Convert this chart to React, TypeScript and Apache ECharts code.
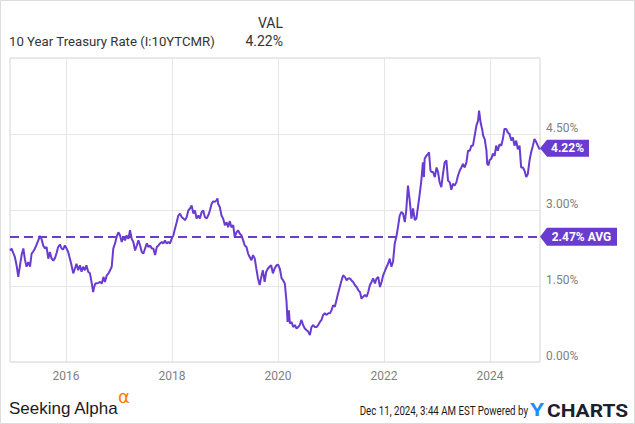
import React, { useEffect, useRef } from 'react';
import * as echarts from 'echarts';

const TITLE = '10 Year Treasury Rate (I:10YTCMR)';
const VAL_HEADER = 'VAL';
const LAST_VALUE = 4.22;
const AVG_VALUE = 2.47;
const START_DATE = '2014-12-11';
const END_DATE = '2024-12-11';
const YEAR_TICKS = ['2016-01-01', '2018-01-01', '2020-01-01', '2022-01-01', '2024-01-01'];
const Y_MIN = 0;
const Y_MAX = 6;
const Y_STEP = 1.5;
const STAMP = 'Dec 11, 2024, 3:44 AM EST Powered by';

const DATES = [
  '2014-12-11', '2014-12-22', '2015-01-03', '2015-01-14', '2015-01-25', '2015-02-06', '2015-02-18', '2015-03-01',
  '2015-03-13', '2015-03-24', '2015-04-04', '2015-04-16', '2015-04-28', '2015-05-09', '2015-05-20', '2015-06-01',
  '2015-06-13', '2015-06-24', '2015-07-05', '2015-07-16', '2015-07-28', '2015-08-09', '2015-08-20', '2015-09-01',
  '2015-09-12', '2015-09-23', '2015-10-05', '2015-10-17', '2015-10-28', '2015-11-08', '2015-11-20', '2015-12-01',
  '2015-12-12', '2015-12-24', '2016-01-05', '2016-01-16', '2016-01-28', '2016-02-08', '2016-02-20', '2016-03-02',
  '2016-03-13', '2016-03-25', '2016-04-06', '2016-04-17', '2016-04-28', '2016-05-10', '2016-05-21', '2016-06-02',
  '2016-06-14', '2016-06-25', '2016-07-06', '2016-07-13', '2016-07-22', '2016-08-10', '2016-08-24', '2016-09-04',
  '2016-09-15', '2016-09-25', '2016-10-08', '2016-10-20', '2016-10-31', '2016-11-11', '2016-11-22', '2016-12-04',
  '2016-12-15', '2016-12-27', '2017-01-07', '2017-01-19', '2017-01-30', '2017-02-11', '2017-02-22', '2017-03-06',
  '2017-03-17', '2017-03-29', '2017-04-09', '2017-04-21', '2017-05-03', '2017-05-14', '2017-05-26', '2017-06-06',
  '2017-06-17', '2017-06-29', '2017-07-11', '2017-07-22', '2017-08-03', '2017-08-14', '2017-08-25', '2017-09-06',
  '2017-09-18', '2017-09-29', '2017-10-10', '2017-10-22', '2017-11-02', '2017-11-13', '2017-11-25', '2017-12-06',
  '2017-12-18', '2017-12-29', '2018-01-10', '2018-01-21', '2018-02-02', '2018-02-13', '2018-02-25', '2018-03-08',
  '2018-03-20', '2018-03-31', '2018-04-12', '2018-04-23', '2018-05-05', '2018-05-16', '2018-05-28', '2018-06-08',
  '2018-06-19', '2018-07-01', '2018-07-12', '2018-07-24', '2018-08-04', '2018-08-15', '2018-08-27', '2018-09-07',
  '2018-09-19', '2018-09-30', '2018-10-11', '2018-10-23', '2018-11-03', '2018-11-10', '2018-11-15', '2018-11-26',
  '2018-12-08', '2018-12-19', '2018-12-31', '2019-01-12', '2019-01-22', '2019-02-03', '2019-02-14', '2019-02-26',
  '2019-03-09', '2019-03-21', '2019-04-01', '2019-04-13', '2019-04-24', '2019-05-06', '2019-05-17', '2019-05-29',
  '2019-06-09', '2019-06-20', '2019-07-02', '2019-07-13', '2019-07-25', '2019-08-05', '2019-08-16', '2019-08-28',
  '2019-09-08', '2019-09-19', '2019-10-01', '2019-10-12', '2019-10-23', '2019-11-04', '2019-11-15', '2019-11-27',
  '2019-12-08', '2019-12-22', '2020-01-02', '2020-01-14', '2020-01-26', '2020-02-06', '2020-02-17', '2020-02-29',
  '2020-03-07', '2020-03-16', '2020-03-23', '2020-04-04', '2020-04-15', '2020-04-26', '2020-05-08', '2020-05-19',
  '2020-05-30', '2020-06-11', '2020-06-22', '2020-07-04', '2020-07-15', '2020-07-27', '2020-08-08', '2020-08-19',
  '2020-08-31', '2020-09-11', '2020-09-23', '2020-10-04', '2020-10-16', '2020-10-27', '2020-11-07', '2020-11-19',
  '2020-12-01', '2020-12-12', '2020-12-24', '2021-01-04', '2021-01-15', '2021-01-27', '2021-02-07', '2021-02-18',
  '2021-03-02', '2021-03-14', '2021-03-25', '2021-04-06', '2021-04-18', '2021-04-29', '2021-05-11', '2021-05-22',
  '2021-06-02', '2021-06-14', '2021-06-26', '2021-07-07', '2021-07-19', '2021-07-30', '2021-08-10', '2021-08-22',
  '2021-09-03', '2021-09-14', '2021-09-26', '2021-10-07', '2021-10-18', '2021-10-30', '2021-11-11', '2021-11-22',
  '2021-12-04', '2021-12-15', '2021-12-26', '2022-01-13', '2022-01-29', '2022-02-09', '2022-02-21', '2022-03-04',
  '2022-03-16', '2022-03-27', '2022-04-07', '2022-04-19', '2022-05-01', '2022-05-12', '2022-05-24', '2022-06-03',
  '2022-06-15', '2022-06-27', '2022-07-09', '2022-07-20', '2022-08-01', '2022-08-12', '2022-08-23', '2022-09-04',
  '2022-09-15', '2022-09-26', '2022-10-03', '2022-10-08', '2022-10-20', '2022-10-31', '2022-11-07', '2022-11-17',
  '2022-11-24', '2022-12-05', '2022-12-17', '2022-12-29', '2023-01-08', '2023-01-19', '2023-01-31', '2023-02-11',
  '2023-02-23', '2023-03-07', '2023-03-18', '2023-03-30', '2023-04-10', '2023-04-21', '2023-05-03', '2023-05-15',
  '2023-05-26', '2023-06-07', '2023-06-18', '2023-06-29', '2023-07-11', '2023-07-23', '2023-08-03', '2023-08-15',
  '2023-08-26', '2023-09-06', '2023-09-18', '2023-09-30', '2023-10-11', '2023-10-18', '2023-10-30', '2023-11-08',
  '2023-11-15', '2023-11-26', '2023-12-08', '2023-12-13', '2023-12-22', '2023-12-29', '2024-01-10', '2024-01-21',
  '2024-02-02', '2024-02-13', '2024-02-24', '2024-03-07', '2024-03-19', '2024-03-30', '2024-04-10', '2024-04-22',
  '2024-05-03', '2024-05-15', '2024-05-27', '2024-06-07', '2024-06-18', '2024-06-30', '2024-07-11', '2024-07-23',
  '2024-08-03', '2024-08-15', '2024-08-26', '2024-09-07', '2024-09-18', '2024-09-30', '2024-10-11', '2024-10-23',
  '2024-11-03', '2024-11-15', '2024-11-26', '2024-12-08', '2024-12-11',
];

const RATES = [
  2.20, 2.24, 2.15, 2.07, 1.91, 1.68, 1.91, 2.11,
  2.24, 2.02, 1.88, 1.97, 1.88, 2.14, 2.18, 2.24,
  2.32, 2.40, 2.49, 2.43, 2.30, 2.24, 2.27, 2.04,
  2.17, 2.05, 2.00, 2.05, 2.15, 2.27, 2.32, 2.24,
  2.22, 2.30, 2.24, 2.17, 2.04, 1.91, 1.75, 1.84,
  1.94, 1.81, 1.91, 1.78, 1.88, 1.81, 1.91, 1.78,
  1.75, 1.58, 1.38, 1.48, 1.55, 1.56, 1.58, 1.55,
  1.68, 1.58, 1.71, 1.75, 1.81, 1.88, 2.24, 2.34,
  2.47, 2.56, 2.50, 2.37, 2.47, 2.40, 2.50, 2.43,
  2.60, 2.43, 2.37, 2.20, 2.30, 2.40, 2.30, 2.17,
  2.14, 2.24, 2.34, 2.27, 2.30, 2.24, 2.24, 2.11,
  2.27, 2.30, 2.34, 2.37, 2.34, 2.40, 2.34, 2.37,
  2.34, 2.43, 2.50, 2.63, 2.76, 2.89, 2.93, 2.86,
  2.83, 2.80, 2.86, 2.99, 3.03, 3.09, 2.93, 2.99,
  2.83, 2.89, 2.83, 2.96, 2.99, 2.86, 2.83, 2.89,
  2.99, 3.12, 3.17, 3.16, 3.19, 3.23, 3.12, 3.06,
  2.89, 2.83, 2.70, 2.76, 2.66, 2.78, 2.66, 2.70,
  2.47, 2.56, 2.60, 2.53, 2.50, 2.40, 2.30, 2.27,
  2.14, 2.07, 2.01, 2.11, 2.04, 1.84, 1.65, 1.52,
  1.68, 1.81, 1.58, 1.78, 1.84, 1.88, 1.91, 1.75,
  1.84, 1.91, 1.92, 1.84, 1.65, 1.61, 1.55, 1.19,
  0.79, 1.02, 0.76, 0.79, 0.69, 0.73, 0.66, 0.69,
  0.73, 0.83, 0.73, 0.66, 0.63, 0.60, 0.53, 0.69,
  0.73, 0.69, 0.69, 0.73, 0.79, 0.83, 0.93, 0.96,
  0.93, 0.96, 0.96, 1.02, 1.12, 1.09, 1.22, 1.35,
  1.48, 1.61, 1.71, 1.68, 1.61, 1.65, 1.65, 1.61,
  1.58, 1.52, 1.48, 1.42, 1.38, 1.25, 1.29, 1.32,
  1.29, 1.38, 1.52, 1.58, 1.65, 1.55, 1.65, 1.68,
  1.48, 1.58, 1.71, 1.84, 1.94, 2.04, 1.88, 1.98,
  2.34, 2.47, 2.66, 2.89, 2.96, 2.93, 2.76, 2.99,
  3.48, 3.19, 2.83, 3.03, 2.80, 2.83, 3.06, 3.32,
  3.58, 3.94, 3.65, 4.01, 4.07, 4.11, 4.14, 3.78,
  3.75, 3.75, 3.65, 3.84, 3.75, 3.55, 3.45, 3.71,
  3.94, 3.98, 3.58, 3.55, 3.40, 3.52, 3.48, 3.55,
  3.68, 3.78, 3.84, 3.91, 3.84, 3.94, 4.17, 4.17,
  4.27, 4.27, 4.47, 4.67, 4.76, 4.96, 4.70, 4.60,
  4.47, 4.40, 4.17, 3.91, 3.88, 3.98, 4.01, 4.11,
  4.07, 4.27, 4.17, 4.30, 4.27, 4.40, 4.60, 4.60,
  4.53, 4.50, 4.37, 4.43, 4.27, 4.37, 4.20, 4.27,
  3.84, 3.84, 3.78, 3.65, 3.71, 3.98, 4.14, 4.27,
  4.40, 4.34, 4.27, 4.20, 4.22,
];

const PURPLE = '#6a3bd0';

const toTs = (d: string) => {
  const [y, m, day] = d.split('-').map(Number);
  return new Date(y, m - 1, day).getTime();
};

export default function App() {
  const ref = useRef<HTMLDivElement>(null);

  useEffect(() => {
    document.body.style.margin = '0';
    const chart = echarts.init(ref.current as HTMLDivElement, null, { renderer: 'svg' });
    const startTs = toTs(START_DATE);
    const endTs = toTs(END_DATE);
    const yearTicks = YEAR_TICKS.map(toTs);
    const seriesData = DATES.map((d, i) => [toTs(d), RATES[i]]);

    chart.setOption({
      animation: false,
      backgroundColor: '#ffffff',
      textStyle: { fontFamily: 'Roboto' },
      grid: {
        left: 10,
        right: 95,
        top: 58,
        bottom: 62,
        show: true,
        borderColor: '#d4d4d4',
        borderWidth: 1,
        backgroundColor: 'transparent',
      },
      xAxis: {
        type: 'value',
        min: startTs,
        max: endTs,
        scale: true,
        axisLine: { show: false },
        axisTick: { show: false, customValues: yearTicks },
        axisLabel: {
          customValues: yearTicks,
          formatter: (v: number) => String(new Date(v).getFullYear()),
          color: '#808080',
          fontSize: 12,
          fontFamily: 'Roboto',
          margin: 8,
        },
        splitLine: { show: true, lineStyle: { color: '#e6e6e6', width: 1 } },
      },
      yAxis: {
        type: 'value',
        position: 'right',
        min: Y_MIN,
        max: Y_MAX,
        interval: Y_STEP,
        axisLine: { show: false },
        axisTick: { show: false },
        axisLabel: {
          showMaxLabel: false,
          formatter: (v: number) => v.toFixed(2) + '%',
          color: '#808080',
          fontSize: 12,
          fontFamily: 'Roboto',
          margin: 6,
          verticalAlign: 'bottom',
        },
        splitLine: { show: true, lineStyle: { color: '#e6e6e6', width: 1 } },
      },
      series: [
        {
          type: 'line',
          data: seriesData,
          showSymbol: false,
          symbol: 'none',
          lineStyle: { color: PURPLE, width: 2 },
          itemStyle: { color: PURPLE },
          z: 3,
          markLine: {
            silent: true,
            symbol: 'none',
            label: { show: false },
            lineStyle: { color: PURPLE, width: 2, type: [9, 5] },
            data: [{ yAxis: AVG_VALUE }],
          },
          markPoint: {
            silent: true,
            data: [
              {
                coord: [endTs, LAST_VALUE],
                symbol: 'path://M0,8L7,0L49,0L49,16L7,16Z',
                symbolSize: [49, 17],
                symbolOffset: [24.5, 0],
                itemStyle: { color: PURPLE },
                label: {
                  show: true,
                  position: 'inside',
                  offset: [3, 0],
                  formatter: LAST_VALUE.toFixed(2) + '%',
                  color: '#ffffff',
                  fontWeight: 'bold',
                  fontSize: 12,
                  fontFamily: 'Roboto',
                },
              },
              {
                coord: [endTs, AVG_VALUE],
                symbol: 'path://M0,9L7,0L77,0L77,18L7,18Z',
                symbolSize: [77, 18],
                symbolOffset: [38.5, 0],
                itemStyle: { color: PURPLE },
                label: {
                  show: true,
                  position: 'inside',
                  offset: [3, 0],
                  formatter: AVG_VALUE.toFixed(2) + '% AVG',
                  color: '#ffffff',
                  fontWeight: 'bold',
                  fontSize: 12,
                  fontFamily: 'Roboto',
                },
              },
            ],
          },
        },
      ],
      graphic: [
        {
          type: 'rect',
          shape: { x: 0.5, y: 0.5, width: 634, height: 423 },
          style: { fill: 'none', stroke: '#dcdcdc', lineWidth: 1 },
          silent: true,
          z: -1,
        },
        {
          type: 'text',
          x: 283,
          y: 23,
          style: { text: VAL_HEADER, fill: '#333333', font: '14px Roboto', textAlign: 'right', textVerticalAlign: 'middle' },
        },
        {
          type: 'text',
          x: 9,
          y: 41,
          style: { text: TITLE, fill: '#333333', font: '13.2px Roboto', textAlign: 'left', textVerticalAlign: 'middle' },
        },
        {
          type: 'text',
          x: 283,
          y: 41,
          style: { text: LAST_VALUE.toFixed(2) + '%', fill: '#333333', font: '14px Roboto', textAlign: 'right', textVerticalAlign: 'middle' },
        },
        {
          type: 'text',
          x: 9,
          y: 408,
          style: { text: 'Seeking Alpha', fill: '#1a1a1a', font: '17px "Liberation Sans"', textAlign: 'left', textVerticalAlign: 'middle' },
        },
        {
          type: 'text',
          x: 118,
          y: 396,
          style: { text: 'α', fill: '#ff7a00', font: '18px "DejaVu Sans"', textAlign: 'left', textVerticalAlign: 'middle' },
        },
        {
          type: 'text',
          x: 528,
          y: 411,
          scaleX: 0.81,
          style: { text: STAMP, fill: '#1a1a1a', font: '12px Roboto', textAlign: 'right', textVerticalAlign: 'middle' },
        },
        {
          type: 'text',
          x: 530,
          y: 410,
          scaleX: 1.2,
          style: { text: 'Y', fill: '#1e8fff', font: 'bold 19px Roboto', textAlign: 'left', textVerticalAlign: 'middle' },
        },
        {
          type: 'text',
          x: 547,
          y: 410,
          scaleX: 1.1,
          style: { text: 'CHARTS', fill: '#1c1f2e', font: 'bold 19px Roboto', textAlign: 'left', textVerticalAlign: 'middle' },
        },
      ],
    });

    return () => chart.dispose();
  }, []);

  return <div ref={ref} style={{ width: 635, height: 424 }} />;
}
